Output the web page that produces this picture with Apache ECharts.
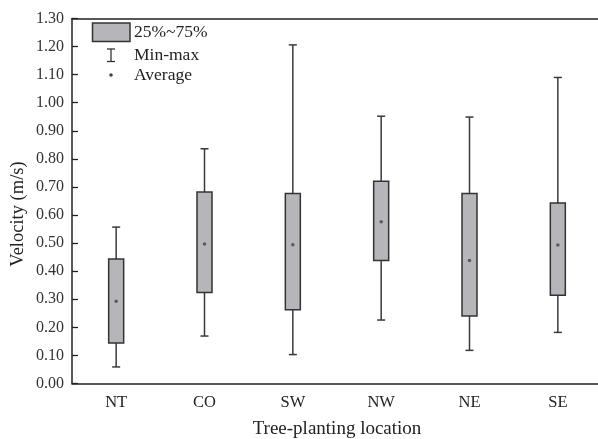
<!DOCTYPE html>
<html><head><meta charset="utf-8">
<script src="https://cdn.jsdelivr.net/npm/echarts@6/dist/echarts.min.js"></script>
<style>html,body{margin:0;padding:0;background:#fff}#c{width:598px;height:439px}</style>
</head><body><div id="c"></div>
<script>
var categories = ['NT','CO','SW','NW','NE','SE'];
var minVals  = [0.059, 0.169, 0.103, 0.226, 0.118, 0.182];
var q1Vals   = [0.144, 0.324, 0.263, 0.438, 0.240, 0.314];
var q3Vals   = [0.443, 0.682, 0.677, 0.720, 0.677, 0.643];
var maxVals  = [0.557, 0.836, 1.206, 0.952, 0.949, 1.090];
var meanVals = [0.293, 0.497, 0.494, 0.576, 0.438, 0.493];
var yTicks = {min: 0, max: 1.3, interval: 0.1};

var FONT = 'Liberation Serif';
var chart = echarts.init(document.getElementById('c'));
var boxData = categories.map(function(c,i){return [i, minVals[i], q1Vals[i], q3Vals[i], maxVals[i]];});

chart.setOption({
  animation: false,
  grid: {left: 72, top: 18.5, bottom: 55.5, width: 530, containLabel: false, outerBoundsMode: 'none'},
  xAxis: [{
    type: 'category', data: categories, position: 'bottom',
    axisLine: {lineStyle: {color: '#222', width: 1.5}},
    axisTick: {inside: true, length: 6, alignWithLabel: true, lineStyle: {color: '#222', width: 1.3}},
    axisLabel: {fontFamily: FONT, fontSize: 16.5, color: '#222', margin: 11},
    name: 'Tree-planting location', nameLocation: 'middle', nameGap: 36,
    nameTextStyle: {fontFamily: FONT, fontSize: 19, color: '#222'}
  },{
    type: 'category', data: categories, position: 'top',
    axisLine: {lineStyle: {color: '#222', width: 1.5}},
    axisTick: {show: false}, axisLabel: {show: false}
  }],
  yAxis: {
    type: 'value', min: yTicks.min, max: yTicks.max, interval: yTicks.interval,
    axisLine: {show: true, lineStyle: {color: '#222', width: 1.5}},
    axisTick: {show: true, inside: true, length: 6, lineStyle: {color: '#222', width: 1.3}},
    splitLine: {show: false},
    axisLabel: {fontFamily: FONT, fontSize: 16, color: '#333', margin: 8,
      formatter: function(v){return v.toFixed(2);}}
  },
  series: [{
    type: 'custom',
    data: boxData,
    encode: {x: 0, y: [1,2,3,4]},
    renderItem: function(params, api){
      var x = api.value(0);
      var pMin = api.coord([x, api.value(1)]);
      var pQ1 = api.coord([x, api.value(2)]);
      var pQ3 = api.coord([x, api.value(3)]);
      var pMax = api.coord([x, api.value(4)]);
      var cx = pMin[0], bw = 15, cw = 8;
      var ls = {stroke: '#3a3a3a', lineWidth: 1.5};
      return {type: 'group', children: [
        {type: 'line', shape: {x1: cx, y1: pMax[1], x2: cx, y2: pQ3[1]}, style: ls},
        {type: 'line', shape: {x1: cx, y1: pQ1[1], x2: cx, y2: pMin[1]}, style: ls},
        {type: 'line', shape: {x1: cx-cw/2, y1: pMax[1], x2: cx+cw/2, y2: pMax[1]}, style: ls},
        {type: 'line', shape: {x1: cx-cw/2, y1: pMin[1], x2: cx+cw/2, y2: pMin[1]}, style: ls},
        {type: 'rect', shape: {x: cx-bw/2, y: pQ3[1], width: bw, height: pQ1[1]-pQ3[1]},
          style: {fill: '#b6b6ba', stroke: '#333', lineWidth: 1.5}}
      ]};
    },
    z: 2
  },{
    type: 'scatter',
    data: categories.map(function(c,i){return [i, meanVals[i]];}),
    symbol: 'circle', symbolSize: 3.5,
    itemStyle: {color: '#444'},
    z: 3
  }],
  graphic: [
    {type: 'text', x: 18, y: 214, rotation: Math.PI/2,
      style: {text: 'Velocity (m/s)', fontFamily: FONT, fontSize: 18.5, fill: '#222', align: 'center', verticalAlign: 'middle'}},
    {type: 'rect', shape: {x: 92.5, y: 23, width: 37.5, height: 18.5},
      style: {fill: '#b6b6ba', stroke: '#333', lineWidth: 1.5}},
    {type: 'text', x: 134, y: 32, style: {text: '25%~75%', fontFamily: FONT, fontSize: 17.5, fill: '#222', verticalAlign: 'middle'}},
    {type: 'line', shape: {x1: 111, y1: 49, x2: 111, y2: 61.5}, style: {stroke: '#333', lineWidth: 1.3}},
    {type: 'line', shape: {x1: 107, y1: 49, x2: 115, y2: 49}, style: {stroke: '#333', lineWidth: 1.3}},
    {type: 'line', shape: {x1: 107, y1: 61.5, x2: 115, y2: 61.5}, style: {stroke: '#333', lineWidth: 1.3}},
    {type: 'text', x: 134, y: 55, style: {text: 'Min-max', fontFamily: FONT, fontSize: 17.5, fill: '#222', verticalAlign: 'middle'}},
    {type: 'circle', shape: {cx: 111, cy: 75, r: 1.8}, style: {fill: '#444'}},
    {type: 'text', x: 134, y: 75, style: {text: 'Average', fontFamily: FONT, fontSize: 17.5, fill: '#222', verticalAlign: 'middle'}}
  ]
});
</script></body></html>
